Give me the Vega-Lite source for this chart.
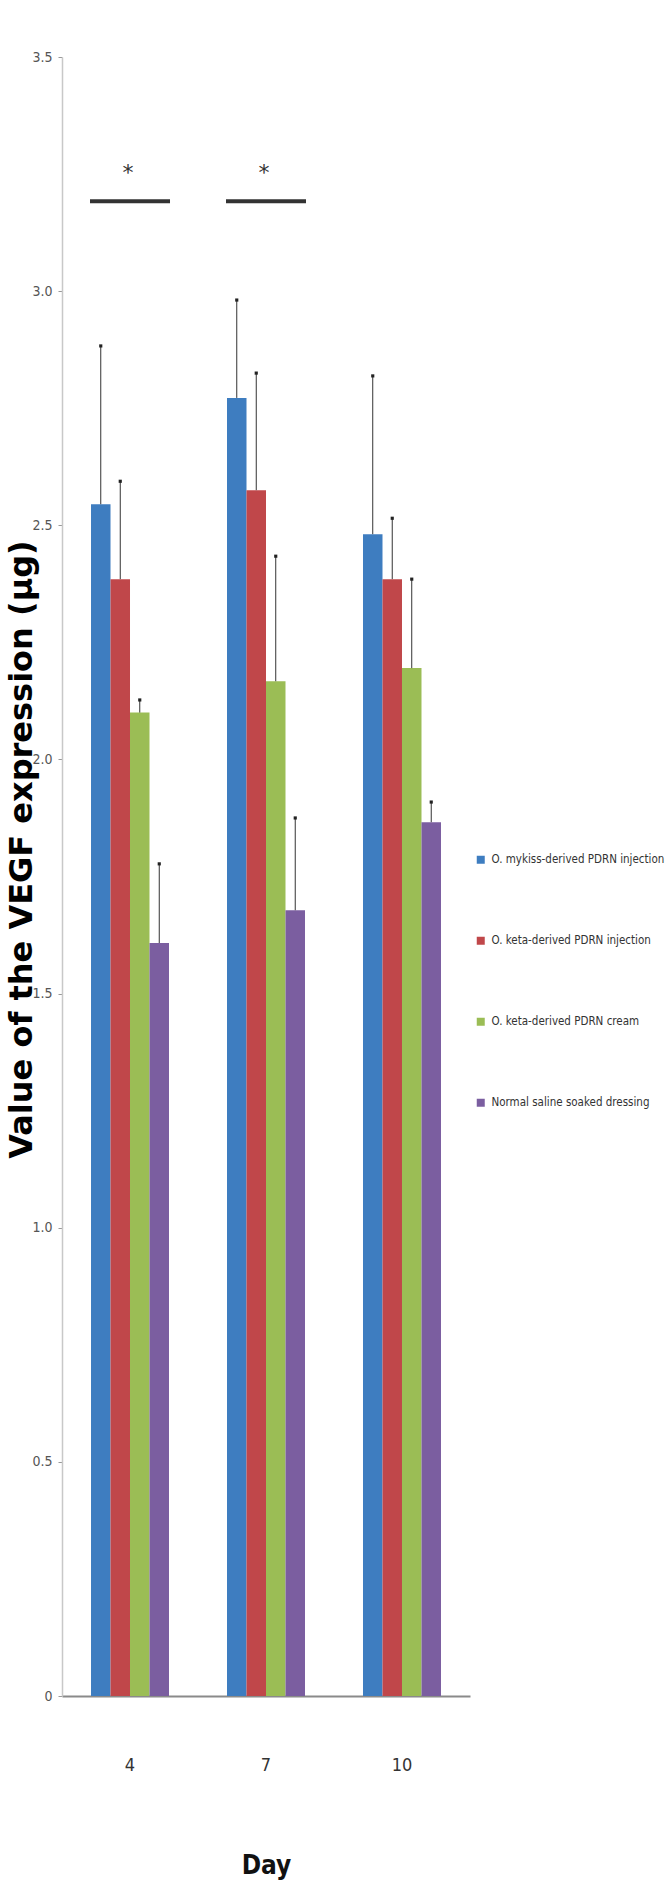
{
  "$schema": "https://vega.github.io/schema/vega-lite/v6.json",
  "width": 408,
  "height": 1639,
  "autosize": {"type": "none"},
  "padding": {"left": 62, "top": 57, "right": 196, "bottom": 193},
  "background": "white",
  "config": {
    "view": {"stroke": null},
    "font": "DejaVu Sans Condensed, Liberation Sans Narrow, Roboto"
  },
  "datasets": {
    "bars": [
      {"day": 4, "group": "O. mykiss-derived PDRN injection", "mean": 2.545, "upper": 2.883},
      {"day": 4, "group": "O. keta-derived PDRN injection", "mean": 2.385, "upper": 2.594},
      {"day": 4, "group": "O. keta-derived PDRN cream", "mean": 2.1, "upper": 2.127},
      {"day": 4, "group": "Normal saline soaked dressing", "mean": 1.608, "upper": 1.777},
      {"day": 7, "group": "O. mykiss-derived PDRN injection", "mean": 2.772, "upper": 2.981},
      {"day": 7, "group": "O. keta-derived PDRN injection", "mean": 2.575, "upper": 2.825},
      {"day": 7, "group": "O. keta-derived PDRN cream", "mean": 2.167, "upper": 2.434},
      {"day": 7, "group": "Normal saline soaked dressing", "mean": 1.678, "upper": 1.875},
      {"day": 10, "group": "O. mykiss-derived PDRN injection", "mean": 2.481, "upper": 2.819},
      {"day": 10, "group": "O. keta-derived PDRN injection", "mean": 2.385, "upper": 2.515},
      {"day": 10, "group": "O. keta-derived PDRN cream", "mean": 2.195, "upper": 2.385},
      {"day": 10, "group": "Normal saline soaked dressing", "mean": 1.866, "upper": 1.909}
    ],
    "sig": [
      {"day": 4, "line": 3.192, "star": 3.252, "mark": "*"},
      {"day": 7, "line": 3.192, "star": 3.252, "mark": "*"}
    ]
  },
  "layer": [
    {
      "data": {"name": "bars"},
      "mark": {"type": "bar"},
      "encoding": {
        "x": {
          "field": "day", "type": "ordinal", "sort": "ascending",
          "scale": {"paddingInner": 0.4265, "paddingOuter": 0.2133},
          "axis": {
            "title": "Day", "labelAngle": 0, "ticks": false,
            "domainColor": "#8a8a8a", "domainWidth": 2,
            "labelFont": "DejaVu Sans Condensed, Liberation Sans Narrow, Roboto", "labelFontSize": 18, "labelColor": "#333",
            "labelPadding": 60,
            "titleFont": "DejaVu Sans Condensed, Liberation Sans Narrow, Roboto", "titleFontSize": 26, "titleFontWeight": "bold",
            "titleColor": "#111", "titleY": 177, "titleBaseline": "alphabetic"
          }
        },
        "xOffset": {
          "field": "group", "type": "nominal",
          "sort": ["O. mykiss-derived PDRN injection", "O. keta-derived PDRN injection", "O. keta-derived PDRN cream", "Normal saline soaked dressing"],
          "scale": {"paddingInner": 0, "paddingOuter": 0}
        },
        "y": {
          "field": "mean", "type": "quantitative",
          "scale": {"domain": [0, 3.5], "nice": false, "zero": true},
          "axis": {
            "title": "Value of the VEGF expression (μg)",
            "values": [0, 0.5, 1, 1.5, 2, 2.5, 3, 3.5],
            "labelExpr": "datum.value == 0 ? '0' : format(datum.value, '.1f')",
            "grid": false,
            "domainColor": "#c8c8c8", "domainWidth": 1.5,
            "tickColor": "#999", "tickSize": 4,
            "labelFont": "DejaVu Sans Condensed, Liberation Sans Narrow, Roboto", "labelFontSize": 14, "labelColor": "#555",
            "labelPadding": 6,
            "titleFont": "DejaVu Sans", "titleFontSize": 32, "titleFontWeight": "bold",
            "titleColor": "#000", "titleX": -31, "titleY": 792,
            "titleAngle": -90, "titleAlign": "center", "titleBaseline": "alphabetic"
          }
        },
        "color": {
          "field": "group", "type": "nominal",
          "sort": ["O. mykiss-derived PDRN injection", "O. keta-derived PDRN injection", "O. keta-derived PDRN cream", "Normal saline soaked dressing"],
          "scale": {
            "domain": ["O. mykiss-derived PDRN injection", "O. keta-derived PDRN injection", "O. keta-derived PDRN cream", "Normal saline soaked dressing"],
            "range": ["#3E7DC0", "#C0474A", "#9BBD55", "#7B5EA0"]
          },
          "legend": {
            "title": null, "orient": "none", "legendX": 413, "legendY": 797,
            "symbolType": "square", "symbolSize": 64, "symbolStrokeWidth": 0,
            "labelFont": "DejaVu Sans Condensed, Liberation Sans Narrow, Roboto", "labelFontSize": 11.5, "labelColor": "#333",
            "labelOffset": 5, "rowPadding": 68, "labelLimit": 300
          }
        }
      }
    },
    {
      "data": {"name": "bars"},
      "mark": {"type": "rule", "color": "#333", "strokeWidth": 1},
      "encoding": {
        "x": {"field": "day", "type": "ordinal", "sort": "ascending"},
        "xOffset": {"field": "group", "type": "nominal",
          "sort": ["O. mykiss-derived PDRN injection", "O. keta-derived PDRN injection", "O. keta-derived PDRN cream", "Normal saline soaked dressing"]},
        "y": {"field": "mean", "type": "quantitative"},
        "y2": {"field": "upper"}
      }
    },
    {
      "data": {"name": "bars"},
      "mark": {"type": "point", "shape": "square", "filled": true, "size": 10, "color": "#222", "opacity": 1},
      "encoding": {
        "x": {"field": "day", "type": "ordinal", "sort": "ascending"},
        "xOffset": {"field": "group", "type": "nominal",
          "sort": ["O. mykiss-derived PDRN injection", "O. keta-derived PDRN injection", "O. keta-derived PDRN cream", "Normal saline soaked dressing"]},
        "y": {"field": "upper", "type": "quantitative"}
      }
    },
    {
      "data": {"name": "sig"},
      "mark": {"type": "tick", "orient": "horizontal", "size": 80, "thickness": 4, "color": "#333", "opacity": 1},
      "encoding": {
        "x": {"field": "day", "type": "ordinal", "sort": "ascending"},
        "y": {"field": "line", "type": "quantitative"}
      }
    },
    {
      "data": {"name": "sig"},
      "mark": {"type": "text", "fontSize": 22, "color": "#333", "baseline": "middle", "align": "center", "font": "DejaVu Sans", "dx": -2},
      "encoding": {
        "x": {"field": "day", "type": "ordinal", "sort": "ascending"},
        "y": {"field": "star", "type": "quantitative"},
        "text": {"field": "mark"}
      }
    }
  ]
}
